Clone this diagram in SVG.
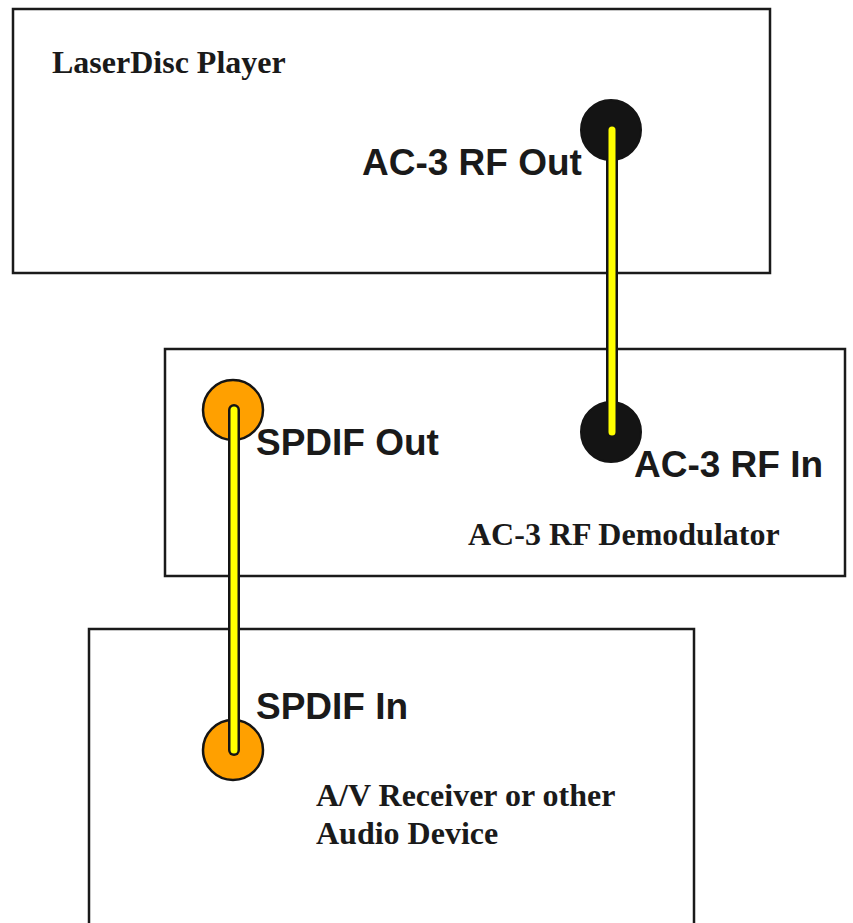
<svg xmlns="http://www.w3.org/2000/svg" width="853" height="923" viewBox="0 0 853 923">
<style>
.box{fill:#fff;stroke:#1a1a1a;stroke-width:2.5}
.ser{font-family:"Liberation Serif",serif;font-weight:bold;font-size:32px;fill:#1a1a1a}
.san{font-family:"Liberation Sans",sans-serif;font-weight:bold;font-size:37px;fill:#1a1a1a}
.blk{fill:#141414;stroke:#141414;stroke-width:2}
.org{fill:#ffa000;stroke:#141414;stroke-width:2.5}
.cab-o{stroke:#141414;stroke-width:12;stroke-linecap:round;fill:none}
.cab-i{stroke:#ffff00;stroke-width:7;stroke-linecap:round;fill:none}
</style>
<rect width="853" height="923" fill="#fff"/>
<g id="laserdisc">
<rect class="box" x="13" y="9" width="757" height="264"/>
<text class="ser" x="52" y="73">LaserDisc Player</text>
<circle class="blk" cx="611" cy="130" r="30"/>
<text class="san" x="362" y="175">AC-3 RF Out</text>
</g>
<g id="demodulator">
<rect class="box" x="165" y="349" width="680" height="227"/>
<circle class="blk" cx="611" cy="432" r="30"/>
<circle class="org" cx="233" cy="410" r="30"/>
<text class="san" x="256" y="455">SPDIF Out</text>
<text class="san" x="634" y="477">AC-3 RF In</text>
<text class="ser" x="468" y="545">AC-3 RF Demodulator</text>
</g>
<g id="receiver">
<rect class="box" x="89" y="629" width="605" height="310"/>
<circle class="org" cx="233" cy="750" r="30"/>
<text class="san" x="256" y="719">SPDIF In</text>
<text class="ser" x="316" y="806">A/V Receiver or other</text>
<text class="ser" x="316" y="844">Audio Device</text>
</g>
<g id="connectors">
<line class="cab-o" x1="612" y1="130" x2="612" y2="432"/>
<line class="cab-i" x1="612" y1="130" x2="612" y2="432"/>
<line class="cab-o" x1="234" y1="410" x2="234" y2="750"/>
<line class="cab-i" x1="234" y1="410" x2="234" y2="750"/>
</g>
</svg>
